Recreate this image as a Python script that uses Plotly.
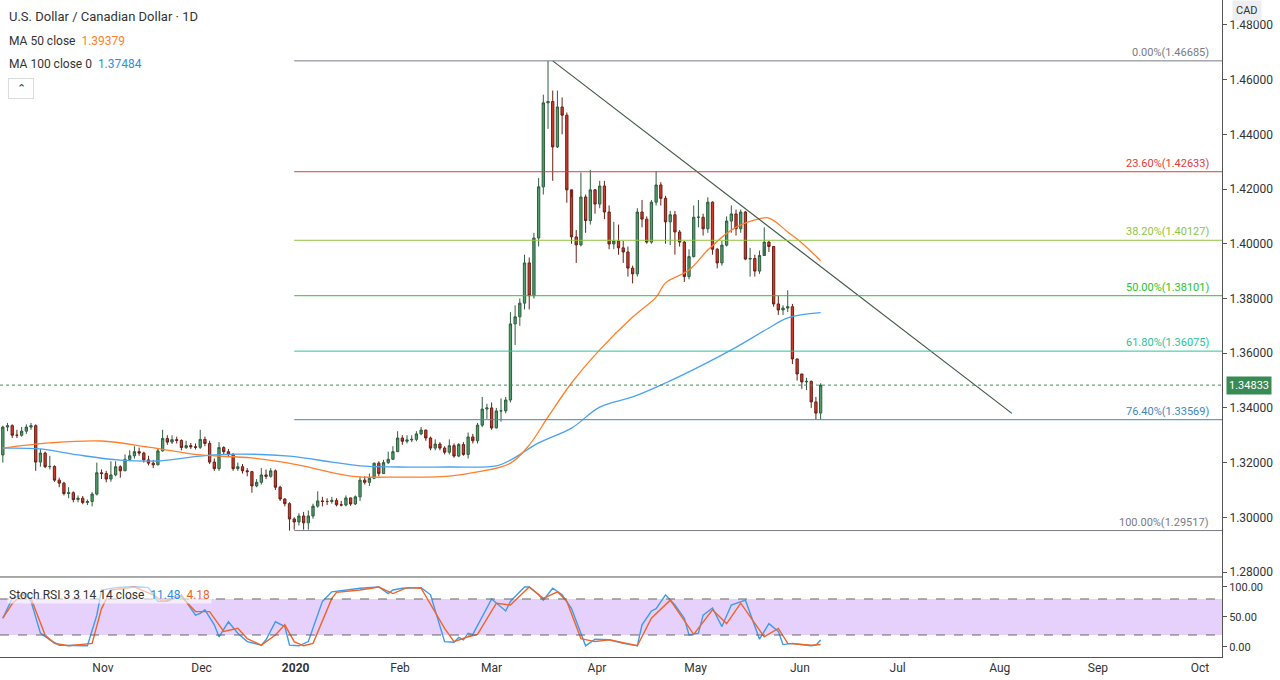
import plotly.graph_objects as go

# daily USDCAD bars, bar index 0 = 1 Oct 2019 (weekdays only)
first_open = 1.3228
closes = [
    1.3330, 1.3335, 1.3300, 1.3300, 1.3315, 1.3330, 1.3335, 1.3202, 1.3235, 1.3185, 1.3186, 1.3136, 1.3125, 1.3087, 1.3090, 1.3065, 1.3070, 1.3054, 1.3058, 1.3085, 1.3163, 1.3160,
    1.3140, 1.3155, 1.3185, 1.3170, 1.3212, 1.3225, 1.3240, 1.3235, 1.3210, 1.3198, 1.3192, 1.3243, 1.3288, 1.3275, 1.3284, 1.3281, 1.3255, 1.3262, 1.3258, 1.3256, 1.3285,
    1.3270, 1.3202, 1.3178, 1.3255, 1.3240, 1.3230, 1.3178, 1.3185, 1.3170, 1.3167, 1.3115, 1.3128, 1.3155, 1.3150, 1.3170, 1.3110, 1.3067, 1.3050, 1.2994,
    1.2983, 1.3005, 1.2980, 1.3005, 1.3041, 1.3060, 1.3058, 1.3058, 1.3062, 1.3046, 1.3045, 1.3071, 1.3049, 1.3075, 1.3136, 1.3128, 1.3143, 1.3198, 1.3160, 1.3200, 1.3212, 1.3240,
    1.3290, 1.3278, 1.3283, 1.3285, 1.3305, 1.3319, 1.3290, 1.3253, 1.3268, 1.3253, 1.3238, 1.3262, 1.3224, 1.3266, 1.3230, 1.3294, 1.3280, 1.3337, 1.3396, 1.3400,
    1.3327, 1.3389, 1.3389, 1.3429, 1.3707, 1.3733, 1.3783, 1.3930, 1.3810, 1.4021, 1.4208, 1.4515, 1.4520, 1.4354, 1.4500, 1.4470, 1.4197, 1.4025, 1.3996, 1.4171, 1.4085, 1.4197,
    1.4145, 1.4211, 1.4116, 1.3999, 1.4010, 1.3985, 1.3970, 1.3911, 1.3890, 1.4116, 1.4090, 1.4006, 1.4152, 1.4215, 1.4166, 1.4080, 1.4106, 1.4043, 1.4006, 1.3880, 1.3953, 1.4097,
    1.4097, 1.4055, 1.4152, 1.3980, 1.3930, 1.3995, 1.4083, 1.4109, 1.4055, 1.4116, 1.3944, 1.3946, 1.3900, 1.3957, 1.4006, 1.3990, 1.3780, 1.3758, 1.3765, 1.3770, 1.3579,
    1.3524, 1.3495, 1.3497, 1.3422, 1.3381, 1.34833,
]
highs = [
    1.3335, 1.3345, 1.3340, 1.3320, 1.3330, 1.3340, 1.3345, 1.3340, 1.3250, 1.3240, 1.3225, 1.3190, 1.3145, 1.3130, 1.3110, 1.3095, 1.3080, 1.3078, 1.3065, 1.3092, 1.3200, 1.3175,
    1.3170, 1.3205, 1.3205, 1.3190, 1.3230, 1.3245, 1.3260, 1.3255, 1.3240, 1.3225, 1.3210, 1.3250, 1.3320, 1.3300, 1.3300, 1.3295, 1.3285, 1.3280, 1.3272, 1.3270, 1.3320,
    1.3295, 1.3280, 1.3215, 1.3275, 1.3260, 1.3250, 1.3235, 1.3200, 1.3195, 1.3180, 1.3170, 1.3140, 1.3180, 1.3175, 1.3180, 1.3175, 1.3115, 1.3070, 1.3055,
    1.3000, 1.3015, 1.3020, 1.3025, 1.3050, 1.3095, 1.3075, 1.3070, 1.3075, 1.3070, 1.3060, 1.3080, 1.3072, 1.3080, 1.3150, 1.3150, 1.3160, 1.3200, 1.3205, 1.3210, 1.3240, 1.3260,
    1.3315, 1.3300, 1.3300, 1.3300, 1.3315, 1.3330, 1.3320, 1.3295, 1.3285, 1.3275, 1.3260, 1.3285, 1.3270, 1.3272, 1.3275, 1.3310, 1.3305, 1.3345, 1.3440, 1.3415,
    1.3420, 1.3400, 1.3435, 1.3440, 1.3750, 1.3775, 1.3800, 1.3960, 1.3950, 1.4040, 1.4240, 1.4545, 1.46685, 1.4560, 1.4560, 1.4535, 1.4480, 1.4170, 1.4050, 1.4260, 1.4180, 1.4270,
    1.4200, 1.4230, 1.4230, 1.4140, 1.4080, 1.4070, 1.4010, 1.3990, 1.3920, 1.4130, 1.4160, 1.4100, 1.4160, 1.4265, 1.4225, 1.4175, 1.4120, 1.4120, 1.4050, 1.4010, 1.3980, 1.4140,
    1.4160, 1.4110, 1.4170, 1.4155, 1.3985, 1.4010, 1.4100, 1.4140, 1.4125, 1.4125, 1.4120, 1.3985, 1.3960, 1.3975, 1.4060, 1.4010, 1.3990, 1.3810, 1.3775, 1.3830, 1.3780,
    1.3580, 1.3520, 1.3510, 1.3500, 1.3440, 1.3490,
]
lows = [
    1.3200, 1.3315, 1.3290, 1.3290, 1.3295, 1.3305, 1.3320, 1.3170, 1.3185, 1.3180, 1.3175, 1.3130, 1.3110, 1.3080, 1.3070, 1.3055, 1.3055, 1.3048, 1.3045, 1.3040, 1.3080, 1.3140,
    1.3128, 1.3130, 1.3150, 1.3145, 1.3170, 1.3205, 1.3215, 1.3225, 1.3200, 1.3190, 1.3180, 1.3190, 1.3240, 1.3265, 1.3268, 1.3270, 1.3245, 1.3250, 1.3250, 1.3248, 1.3250,
    1.3260, 1.3195, 1.3170, 1.3170, 1.3230, 1.3220, 1.3170, 1.3170, 1.3160, 1.3150, 1.3090, 1.3110, 1.3120, 1.3140, 1.3145, 1.3100, 1.3060, 1.3040, 1.29517,
    1.2955, 1.2970, 1.2955, 1.2955, 1.2995, 1.3035, 1.3040, 1.3045, 1.3050, 1.3040, 1.3040, 1.3040, 1.3042, 1.3045, 1.3060, 1.3120, 1.3115, 1.3140, 1.3150, 1.3160, 1.3195, 1.3215,
    1.3240, 1.3265, 1.3270, 1.3275, 1.3278, 1.3300, 1.3280, 1.3245, 1.3245, 1.3245, 1.3230, 1.3230, 1.3218, 1.3220, 1.3225, 1.3215, 1.3270, 1.3270, 1.3330, 1.3360,
    1.3320, 1.3325, 1.3350, 1.3380, 1.3420, 1.3630, 1.3700, 1.3760, 1.3760, 1.3800, 1.3990, 1.4180, 1.4420, 1.4230, 1.4350, 1.4400, 1.4150, 1.4000, 1.3930, 1.3990, 1.4040, 1.4070,
    1.4110, 1.4130, 1.4090, 1.3980, 1.3980, 1.3960, 1.3930, 1.3880, 1.3855, 1.3880, 1.4060, 1.4000, 1.4000, 1.4140, 1.4140, 1.4000, 1.3995, 1.3960, 1.3990, 1.3860, 1.3870, 1.3950,
    1.4060, 1.4030, 1.4040, 1.3960, 1.3910, 1.3920, 1.3990, 1.4040, 1.4030, 1.4040, 1.3940, 1.3880, 1.3880, 1.3890, 1.3990, 1.3970, 1.3770, 1.3740, 1.3740, 1.3750, 1.3560,
    1.3500, 1.3470, 1.3465, 1.3400, 1.3357, 1.3357,
]

# moving averages (bar index, value)
ma50_idx = [0, 10, 21, 31, 42, 53, 63, 74, 84, 95, 101, 108, 112, 116, 121, 127, 134, 139, 141, 146, 150, 155, 160, 163, 167, 170, 174]
ma50_val = [1.3253, 1.3272, 1.3279, 1.3257, 1.3228, 1.3217, 1.3191, 1.3151, 1.3147, 1.3151, 1.3166, 1.3198, 1.3264, 1.3367, 1.3491, 1.3612,
            1.3732, 1.3805, 1.3857, 1.3904, 1.3977, 1.4050, 1.4087, 1.4094, 1.4043, 1.4003, 1.3938]
ma100_idx = [0, 8, 16, 25, 33, 42, 50, 61, 70, 76, 84, 95, 105, 108, 114, 121, 127, 134, 141, 148, 155, 163, 167, 174]
ma100_val = [1.3253, 1.3250, 1.3228, 1.3209, 1.3206, 1.3224, 1.3231, 1.3224, 1.3202, 1.3188, 1.3184, 1.3184, 1.3188, 1.3209, 1.3272, 1.3326,
             1.3403, 1.3440, 1.3491, 1.3549, 1.3612, 1.3692, 1.3729, 1.3748]

# stoch RSI %K (blue) and %D (orange)
k_idx = [0, 2, 4, 5, 6, 8, 10, 12, 18, 20, 21, 24, 28, 31, 33, 35, 38, 39, 41, 42, 43, 45, 46, 48, 50, 52, 55, 56, 58, 60, 61, 63, 65, 68, 70, 76, 80, 82, 83, 85, 87,
         89, 91, 94, 96, 97, 98, 99, 100, 103, 104, 107, 108, 111, 112, 114, 115, 117, 119, 121, 124, 126, 129, 132, 135, 136, 138, 139, 141, 143, 145, 146,
         148, 149, 151, 153, 155, 158, 161, 163, 165, 166, 168, 172, 173, 174]
k_val = [48, 81, 87, 89, 76, 23, 12, 3, 2, 53, 95, 99, 100, 99, 76, 76, 87, 76, 53, 56, 62, 37, 17, 42, 23, 9, 3, 12, 42, 34, 3, 2, 9, 76, 92, 98, 100, 89, 95, 98, 99,
         99, 87, 9, 8, 16, 12, 23, 21, 64, 80, 60, 76, 100, 100, 87, 78, 98, 87, 64, 2, 13, 12, 6, 2, 37, 60, 64, 87, 70, 48,
         20, 23, 53, 65, 34, 70, 78, 13, 39, 26, 4, 6, 2, 3, 11.48]
d_idx = [0, 2, 4, 6, 9, 11, 14, 19, 21, 23, 28, 32, 34, 38, 41, 44, 47, 50, 52, 55, 58, 60, 62, 64, 66, 70, 71, 76, 80, 83, 86,
         89, 94, 96, 99, 101, 105, 108, 112, 115, 118, 120, 123, 126, 129, 135, 138, 142, 147, 151, 154, 157, 162, 165, 167, 172, 174]
d_val = [48, 72, 87, 81, 20, 6, 2, 6, 64, 95, 100, 87, 76, 84, 59, 59, 26, 31, 14, 3, 20, 37, 9, 2, 6, 81, 91, 95, 100, 89, 99,
         98, 31, 9, 17, 21, 73, 70, 100, 81, 92, 76, 14, 9, 12, 2, 48, 78, 21, 62, 39, 73, 17, 31, 6, 3, 4.18]

month_labels = ["Nov", "Dec", "<b>2020</b>", "Feb", "Mar", "Apr", "May", "Jun", "Jul", "Aug", "Sep", "Oct"]
month_idx = [21.3, 42.3, 62.3, 84.5, 104, 126.4, 147.4, 169.6, 190.4, 212.1, 233, 254.7]

fib_pct = ["0.00", "23.60", "38.20", "50.00", "61.80", "76.40", "100.00"]
fib_lvl = [1.46685, 1.42633, 1.40127, 1.38101, 1.36075, 1.33569, 1.29517]
fib_col = ["#787b86", "#e03a3a", "#8fc43f", "#2cc22c", "#27c4a0", "#3d87c0", "#787b86"]

last_price = 1.34833
trend_start = (117, 1.46685)
trend_end = (214.7, 1.3380)

bars = list(range(len(closes)))
opens = [first_open] + closes[:-1]

fig = go.Figure()
fig.add_trace(go.Scatter(x=ma100_idx, y=ma100_val, mode="lines", line=dict(color="#4aa3f0", width=1.3, shape="spline"), hoverinfo="skip"))
fig.add_trace(go.Scatter(x=ma50_idx, y=ma50_val, mode="lines", line=dict(color="#ff7f2a", width=1.3, shape="spline"), hoverinfo="skip"))
fig.add_trace(go.Candlestick(
    x=bars, open=opens, high=highs, low=lows, close=closes,
    increasing=dict(line=dict(color="#2f5e3e", width=1), fillcolor="#4f9e6b"),
    decreasing=dict(line=dict(color="#6b2016", width=1), fillcolor="#d03b2a"),
    whiskerwidth=0, hoverinfo="skip",
))
fig.add_trace(go.Scatter(x=[trend_start[0], trend_end[0]], y=[trend_start[1], trend_end[1]], mode="lines",
                         line=dict(color="#3f5a44", width=1.2), hoverinfo="skip"))

# stoch rsi panel
fig.add_shape(type="rect", xref="x2 domain", yref="y2", x0=0, x1=1, y0=20, y1=80, fillcolor="rgba(190,140,245,0.4)", line_width=0, layer="below")
for lv in [20, 80]:
    fig.add_shape(type="line", xref="x2 domain", yref="y2", x0=0, x1=1, y0=lv, y1=lv, line=dict(color="#666", width=1, dash="dash"))
fig.add_trace(go.Scatter(x=k_idx, y=k_val, mode="lines", line=dict(color="#3d9bef", width=1.4), xaxis="x2", yaxis="y2", hoverinfo="skip"))
fig.add_trace(go.Scatter(x=d_idx, y=d_val, mode="lines", line=dict(color="#f0642a", width=1.4), xaxis="x2", yaxis="y2", hoverinfo="skip"))

# fib levels
for pct, lvl, col in zip(fib_pct, fib_lvl, fib_col):
    fig.add_shape(type="line", xref="x", yref="y", x0=62, x1=259.4, y0=lvl, y1=lvl, line=dict(color=col, width=1))
    fig.add_annotation(x=0.991, xref="paper", y=lvl, yref="y", text=f"{pct}%({lvl:.5f})", showarrow=False,
                       xanchor="right", yanchor="bottom", font=dict(size=11, color=col, family="Roboto"))

fig.add_shape(type="line", xref="x domain", yref="y", x0=0, x1=1, y0=last_price, y1=last_price,
              line=dict(color="#3f8f5a", width=1, dash="dot"))
fig.add_annotation(x=1.003, xref="paper", y=last_price, yref="y", text=f"{last_price:.5f}", showarrow=False, xanchor="left",
                   bgcolor="#3a8a55", font=dict(color="white", size=11, family="Roboto"), borderpad=2)
fig.add_annotation(x=1.008, xref="paper", y=1.0, yref="paper", text="CAD", showarrow=False, xanchor="left", yanchor="top",
                   bgcolor="#eceef2", font=dict(color="#333", size=11, family="Roboto"), borderpad=3)

# header texts
legend_font = dict(size=12, color="#333", family="Roboto")
fig.add_annotation(x=0.006, xref="paper", y=0.975, yref="paper", text="U.S. Dollar / Canadian Dollar · 1D", showarrow=False,
                   xanchor="left", yanchor="middle", font=dict(size=13, color="#333", family="Roboto"))
fig.add_annotation(x=0.006, xref="paper", y=0.938, yref="paper",
                   text="MA 50 close  <span style='color:#ff7f2a'>1.39379</span>", showarrow=False,
                   xanchor="left", yanchor="middle", font=legend_font)
fig.add_annotation(x=0.006, xref="paper", y=0.903, yref="paper",
                   text="MA 100 close 0  <span style='color:#2d8fe6'>1.37484</span>", showarrow=False,
                   xanchor="left", yanchor="middle", font=legend_font)
fig.add_annotation(x=0.017, xref="paper", y=0.865, yref="paper", text="⌃", showarrow=False, xanchor="center", yanchor="middle",
                   bordercolor="#d8dbe0", borderwidth=1, borderpad=3, width=18, font=dict(size=11, color="#333"))
fig.add_annotation(x=0.006, xref="paper", y=0.094, yref="paper",
                   text="Stoch RSI 3 3 14 14 close  <span style='color:#2d8fe6'>11.48</span>  <span style='color:#f0642a'>4.18</span>",
                   showarrow=False, xanchor="left", yanchor="middle", bgcolor="rgba(255,255,255,0.6)", font=legend_font)

axis_common = dict(showgrid=False, zeroline=False, range=[-0.6, 259.4])
fig.update_layout(
    width=1280, height=680, margin=dict(l=0, r=58, t=0, b=23),
    paper_bgcolor="white", plot_bgcolor="white", showlegend=False,
    font=dict(family="Roboto", color="#333"),
    xaxis=dict(**axis_common, domain=[0, 1], anchor="y", showticklabels=False, rangeslider=dict(visible=False)),
    xaxis2=dict(**axis_common, domain=[0, 1], anchor="y2", matches="x", tickvals=month_idx, ticktext=month_labels,
                tickfont=dict(size=12, color="#333"), showline=True, linecolor="#555", ticks="", ticklen=4, tickcolor="#555"),
    yaxis=dict(domain=[0.1218, 1], side="right", range=[1.2782, 1.4891], dtick=0.02, tickformat=".5f", showgrid=False, zeroline=False,
               showline=True, linecolor="#555", ticks="outside", ticklen=4, tickcolor="#555", tickfont=dict(size=12, color="#333")),
    yaxis2=dict(domain=[0, 0.1218], side="right", range=[-16.7, 116.7], tickvals=[0, 50, 100], ticktext=["0.00", "50.00", "100.00"],
                showgrid=False, zeroline=False, showline=True, linecolor="#555", ticks="outside", ticklen=4, tickcolor="#555",
                tickfont=dict(size=11, color="#333")),
)
fig.add_shape(type="line", xref="paper", yref="paper", x0=0, x1=1, y0=0.1218, y1=0.1218, line=dict(color="#555", width=1))

fig.write_html("out.html", config={"displayModeBar": False}, post_script="document.body.style.margin='0';")
